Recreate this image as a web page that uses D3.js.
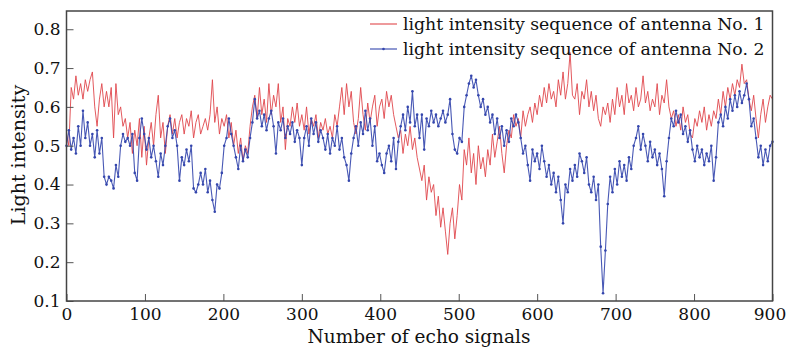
<!DOCTYPE html>
<html><head><meta charset="utf-8">
<script src="https://cdn.jsdelivr.net/npm/d3@7"></script>
<style>html,body{margin:0;padding:0;background:#fff;}svg{display:block;}</style>
</head><body>
<svg id="chart" width="788" height="348"></svg>
<script>
// Sample index step (values read every 3 echo signals)
const step = 3;
const xTicks = [0,100,200,300,400,500,600,700,800,900];
const yTicks = [0.1,0.2,0.3,0.4,0.5,0.6,0.7,0.8];
const seriesNames = ["light intensity sequence of antenna No. 1","light intensity sequence of antenna No. 2"];
const antenna1 = [
0.53,0.50,0.65,0.62,0.68,0.63,0.66,0.62,0.67,0.64,
0.67,0.69,0.60,0.55,0.62,0.66,0.60,0.64,0.60,0.65,
0.52,0.66,0.58,0.60,0.55,0.57,0.52,0.56,0.48,0.54,
0.50,0.57,0.47,0.55,0.45,0.52,0.56,0.50,0.58,0.63,
0.52,0.56,0.48,0.55,0.58,0.53,0.57,0.52,0.56,0.58,
0.53,0.57,0.55,0.59,0.52,0.56,0.58,0.53,0.55,0.57,
0.54,0.58,0.67,0.56,0.60,0.53,0.57,0.55,0.58,0.52,
0.56,0.50,0.54,0.48,0.52,0.46,0.50,0.48,0.55,0.60,
0.63,0.57,0.65,0.58,0.62,0.56,0.66,0.58,0.63,0.60,
0.66,0.56,0.60,0.49,0.57,0.55,0.60,0.56,0.61,0.55,
0.58,0.54,0.60,0.53,0.57,0.55,0.58,0.52,0.56,0.54,
0.57,0.53,0.55,0.52,0.58,0.55,0.60,0.65,0.58,0.66,
0.60,0.64,0.56,0.53,0.57,0.65,0.58,0.54,0.61,0.56,
0.60,0.63,0.55,0.60,0.62,0.57,0.64,0.60,0.63,0.58,
0.55,0.52,0.54,0.48,0.53,0.50,0.55,0.49,0.52,0.47,
0.44,0.41,0.45,0.36,0.42,0.38,0.40,0.32,0.37,0.29,
0.34,0.28,0.22,0.30,0.34,0.26,0.32,0.40,0.36,0.49,
0.45,0.52,0.43,0.48,0.40,0.50,0.44,0.47,0.42,0.49,
0.45,0.53,0.47,0.51,0.55,0.48,0.43,0.50,0.54,0.52,
0.58,0.55,0.57,0.52,0.59,0.55,0.58,0.60,0.56,0.61,
0.58,0.63,0.60,0.65,0.61,0.66,0.62,0.64,0.60,0.67,
0.63,0.69,0.62,0.66,0.74,0.63,0.62,0.66,0.58,0.64,
0.62,0.67,0.60,0.64,0.59,0.63,0.57,0.55,0.60,0.58,
0.61,0.56,0.62,0.58,0.65,0.60,0.63,0.58,0.66,0.61,
0.63,0.59,0.65,0.60,0.62,0.68,0.61,0.64,0.59,0.62,
0.60,0.66,0.58,0.63,0.61,0.67,0.60,0.57,0.59,0.55,
0.58,0.54,0.60,0.56,0.58,0.53,0.52,0.57,0.55,0.59,
0.56,0.60,0.54,0.58,0.55,0.59,0.57,0.62,0.58,0.64,
0.60,0.65,0.62,0.66,0.63,0.67,0.65,0.71,0.66,0.67,
0.62,0.59,0.63,0.57,0.52,0.58,0.62,0.56,0.60,0.63,
0.62];
const antenna2 = [
0.50,0.54,0.49,0.52,0.48,0.55,0.50,0.59,0.52,0.56,
0.50,0.53,0.47,0.54,0.48,0.52,0.42,0.40,0.42,0.41,
0.39,0.45,0.42,0.50,0.53,0.51,0.52,0.50,0.53,0.43,
0.41,0.52,0.57,0.53,0.49,0.52,0.47,0.50,0.46,0.42,
0.48,0.45,0.50,0.55,0.57,0.52,0.54,0.50,0.41,0.47,
0.45,0.49,0.46,0.50,0.39,0.38,0.40,0.43,0.40,0.44,
0.38,0.41,0.36,0.33,0.40,0.39,0.43,0.50,0.52,0.57,
0.53,0.50,0.47,0.44,0.50,0.46,0.49,0.47,0.52,0.56,
0.62,0.57,0.59,0.55,0.58,0.54,0.57,0.59,0.55,0.48,
0.56,0.54,0.57,0.52,0.55,0.53,0.56,0.51,0.54,0.52,
0.45,0.52,0.55,0.50,0.57,0.53,0.56,0.51,0.54,0.52,
0.49,0.53,0.48,0.52,0.50,0.55,0.49,0.52,0.47,0.45,
0.41,0.48,0.52,0.55,0.50,0.56,0.53,0.59,0.54,0.57,
0.50,0.55,0.46,0.48,0.45,0.43,0.48,0.50,0.46,0.52,
0.44,0.51,0.55,0.58,0.54,0.60,0.56,0.64,0.55,0.58,
0.52,0.58,0.49,0.57,0.55,0.59,0.56,0.58,0.55,0.57,
0.59,0.56,0.58,0.62,0.53,0.49,0.48,0.52,0.51,0.60,
0.63,0.66,0.68,0.65,0.67,0.63,0.60,0.62,0.58,0.60,
0.56,0.58,0.53,0.57,0.52,0.55,0.50,0.54,0.51,0.57,
0.55,0.58,0.56,0.52,0.48,0.50,0.45,0.41,0.49,0.46,
0.48,0.44,0.50,0.46,0.42,0.45,0.40,0.43,0.38,0.42,
0.36,0.30,0.40,0.38,0.44,0.41,0.45,0.42,0.48,0.46,
0.43,0.47,0.40,0.38,0.42,0.36,0.40,0.24,0.12,0.23,
0.35,0.42,0.38,0.44,0.40,0.46,0.42,0.45,0.41,0.47,
0.44,0.50,0.52,0.55,0.49,0.53,0.50,0.46,0.51,0.47,
0.49,0.45,0.48,0.44,0.37,0.46,0.52,0.57,0.55,0.59,
0.56,0.58,0.53,0.55,0.51,0.54,0.49,0.46,0.50,0.47,
0.49,0.45,0.48,0.46,0.50,0.41,0.47,0.56,0.58,0.55,
0.60,0.57,0.62,0.59,0.63,0.60,0.64,0.61,0.63,0.66,
0.62,0.55,0.57,0.52,0.47,0.50,0.45,0.49,0.46,0.50,
0.51];

const colors = ["#e0474c", "#3446ad"];
const font = "'DejaVu Serif', 'Liberation Serif', serif";

const svg = d3.select("#chart");
const m = {left: 66.5, right: 772.5, top: 11, bottom: 301};
const x = d3.scaleLinear().domain([0, 900]).range([m.left, m.right]);
const y = d3.scaleLinear().domain([0.1, 0.847]).range([m.bottom, m.top]);

const toPts = arr => arr.map((v, i) => ({i: i * step, v}));
const line = d3.line().x(d => x(d.i)).y(d => y(d.v));

const g = svg.append("g");
g.append("path").datum(toPts(antenna1))
  .attr("fill", "none").attr("stroke", colors[0]).attr("stroke-width", 1).attr("stroke-opacity", 0.9)
  .attr("d", line);
g.append("path").datum(toPts(antenna2))
  .attr("fill", "none").attr("stroke", colors[1]).attr("stroke-width", 1.1).attr("stroke-opacity", 0.9)
  .attr("d", line);
g.selectAll("circle.b").data(toPts(antenna2)).enter().append("circle")
  .attr("class", "b").attr("cx", d => x(d.i)).attr("cy", d => y(d.v)).attr("r", 1.3)
  .attr("fill", colors[1]);

// axes
const xAxis = d3.axisBottom(x).tickValues(xTicks).tickSizeInner(-7).tickSizeOuter(0).tickPadding(7).tickFormat(d3.format("d"));
const yAxis = d3.axisLeft(y).tickValues(yTicks).tickSizeInner(-7).tickSizeOuter(0).tickPadding(6).tickFormat(d3.format(".1f"));
const gx = svg.append("g").attr("transform", `translate(0,${m.bottom})`).call(xAxis);
const gy = svg.append("g").attr("transform", `translate(${m.left},0)`).call(yAxis);
[gx, gy].forEach(a => {
  a.select(".domain").remove();
  a.selectAll(".tick line").attr("stroke", "#555").attr("stroke-width", 1);
  a.selectAll(".tick text").attr("font-family", font).attr("font-size", 17).attr("fill", "#111");
});
gx.selectAll(".tick text").attr("dy", "0.72em");
gx.selectAll(".tick text").filter(d => d === 900).attr("dx", -3);

// frame
svg.append("rect").attr("x", m.left).attr("y", m.top)
  .attr("width", m.right - m.left).attr("height", m.bottom - m.top)
  .attr("fill", "none").attr("stroke", "#444").attr("stroke-width", 1.5);

// axis titles
svg.append("text").attr("x", 419).attr("y", 343)
  .attr("text-anchor", "middle").attr("font-family", font).attr("font-size", 18.5).attr("fill", "#111")
  .text("Number of echo signals");
svg.append("text").attr("transform", "translate(25,155) rotate(-90)")
  .attr("text-anchor", "middle").attr("font-family", font).attr("font-size", 19).attr("fill", "#111")
  .text("Light intensity");

// legend
const leg = svg.append("g");
seriesNames.forEach((name, k) => {
  const ly = 24 + k * 25;
  leg.append("line").attr("x1", 370).attr("x2", 397).attr("y1", ly).attr("y2", ly)
    .attr("stroke", colors[k]).attr("stroke-width", 1.1);
  if (k === 1) leg.append("circle").attr("cx", 383.5).attr("cy", ly).attr("r", 1.3).attr("fill", colors[k]);
  leg.append("text").attr("x", 403).attr("y", ly + 6).attr("font-family", font).attr("font-size", 17.3)
    .attr("fill", "#111").text(name);
});
</script>
</body></html>
